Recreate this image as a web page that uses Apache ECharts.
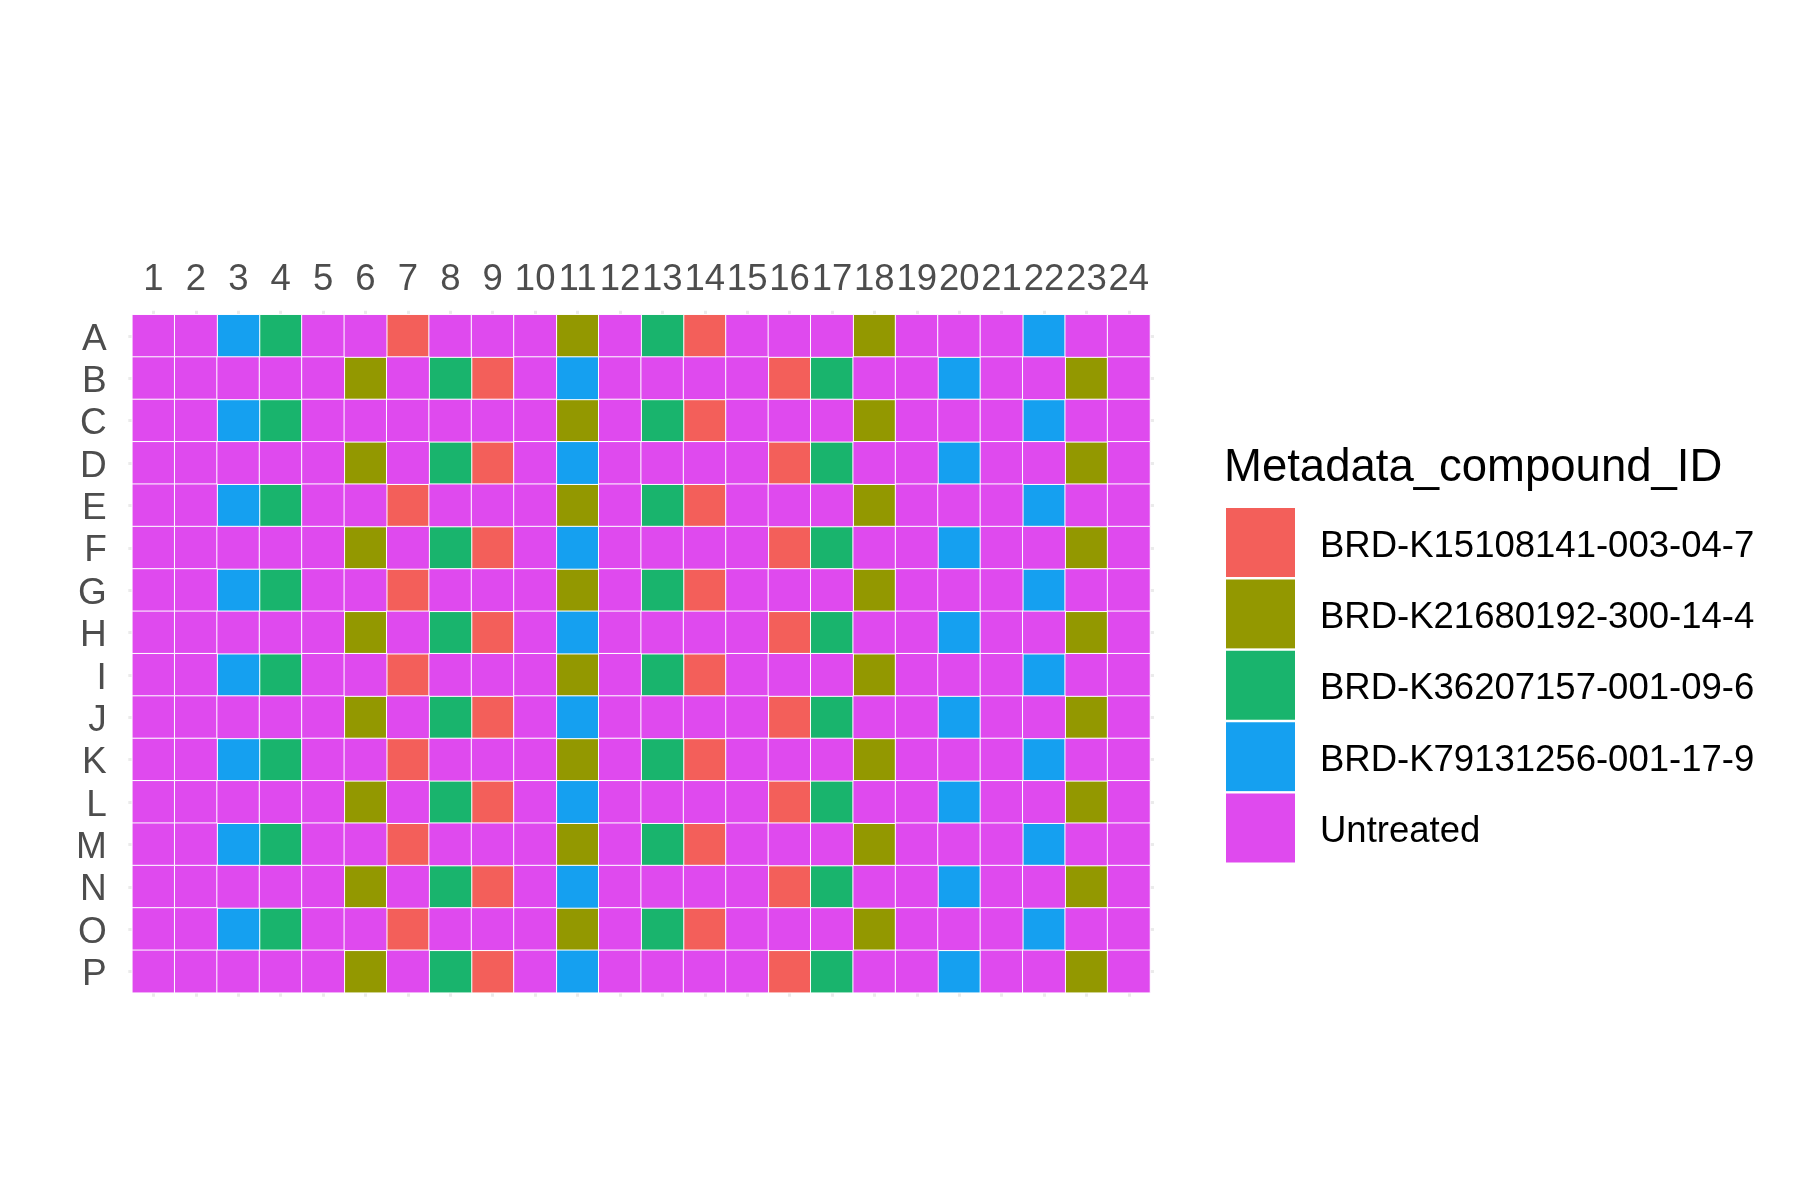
<!DOCTYPE html>
<html>
<head>
<meta charset="utf-8">
<script src="https://cdn.jsdelivr.net/npm/echarts@6/dist/echarts.min.js"></script>
<style>
html,body{margin:0;padding:0;background:#fff;}
#chart{width:1800px;height:1200px;}
</style>
</head>
<body>
<div id="chart"></div>
<script>
// Plate columns and rows
const plateCols = ['1','2','3','4','5','6','7','8','9','10','11','12','13','14','15','16','17','18','19','20','21','22','23','24'];
const plateRows = ['A','B','C','D','E','F','G','H','I','J','K','L','M','N','O','P'];

// Compound categories (index used in the layout below)
const compounds = ['BRD-K15108141-003-04-7','BRD-K21680192-300-14-4','BRD-K36207157-001-09-6','BRD-K79131256-001-17-9','Untreated'];
const compoundColors = ['#F35F5A','#939800','#19B46D','#15A0F0','#DF4AEE'];

// Well layout: compound index per well, one array per plate row
const rowA = [4,4,3,2,4,4,0,4,4,4,1,4,2,0,4,4,4,1,4,4,4,3,4,4];
const rowB = [4,4,4,4,4,1,4,2,0,4,3,4,4,4,4,0,2,4,4,3,4,4,1,4];
const rowC = [4,4,3,2,4,4,4,4,4,4,1,4,2,0,4,4,4,1,4,4,4,3,4,4];
const rowD = [4,4,4,4,4,1,4,2,0,4,3,4,4,4,4,0,2,4,4,3,4,4,1,4];
const rowE = [4,4,3,2,4,4,0,4,4,4,1,4,2,0,4,4,4,1,4,4,4,3,4,4];
const rowF = [4,4,4,4,4,1,4,2,0,4,3,4,4,4,4,0,2,4,4,3,4,4,1,4];
const rowG = [4,4,3,2,4,4,0,4,4,4,1,4,2,0,4,4,4,1,4,4,4,3,4,4];
const rowH = [4,4,4,4,4,1,4,2,0,4,3,4,4,4,4,0,2,4,4,3,4,4,1,4];
const rowI = [4,4,3,2,4,4,0,4,4,4,1,4,2,0,4,4,4,1,4,4,4,3,4,4];
const rowJ = [4,4,4,4,4,1,4,2,0,4,3,4,4,4,4,0,2,4,4,3,4,4,1,4];
const rowK = [4,4,3,2,4,4,0,4,4,4,1,4,2,0,4,4,4,1,4,4,4,3,4,4];
const rowL = [4,4,4,4,4,1,4,2,0,4,3,4,4,4,4,0,2,4,4,3,4,4,1,4];
const rowM = [4,4,3,2,4,4,0,4,4,4,1,4,2,0,4,4,4,1,4,4,4,3,4,4];
const rowN = [4,4,4,4,4,1,4,2,0,4,3,4,4,4,4,0,2,4,4,3,4,4,1,4];
const rowO = [4,4,3,2,4,4,0,4,4,4,1,4,2,0,4,4,4,1,4,4,4,3,4,4];
const rowP = [4,4,4,4,4,1,4,2,0,4,3,4,4,4,4,0,2,4,4,3,4,4,1,4];
const plateLayout = [rowA,rowB,rowC,rowD,rowE,rowF,rowG,rowH,rowI,rowJ,rowK,rowL,rowM,rowN,rowO,rowP];

const FONT = "'Liberation Sans', Arial, Helvetica, sans-serif";

const seriesData = compounds.map(() => []);
plateLayout.forEach((row, r) => {
  row.forEach((code, c) => {
    seriesData[code].push([c, r, 1]);
  });
});

const series = compounds.map((name, i) => ({
  name: name,
  type: 'heatmap',
  xAxisIndex: 0,
  yAxisIndex: 0,
  data: seriesData[i],
  itemStyle: { color: compoundColors[i], borderColor: '#ffffff', borderWidth: 1 },
  emphasis: { disabled: true },
  silent: true
}));

const tickStyle = { show: true, alignWithLabel: true, interval: 0, length: 4, lineStyle: { color: '#EBEBEB', width: 3 } };

const option = {
  animation: false,
  backgroundColor: '#ffffff',
  grid: { left: 132.3, top: 314.7, width: 1017.7, height: 678, containLabel: false },
  xAxis: [
    {
      type: 'category', data: plateCols, position: 'top',
      axisLine: { show: false }, axisTick: tickStyle, splitLine: { show: false },
      axisLabel: { interval: 0, margin: 16.5, fontSize: 36.5, color: '#4D4D4D', fontFamily: FONT }
    },
    {
      type: 'category', data: plateCols, position: 'bottom',
      axisLine: { show: false }, axisTick: tickStyle, splitLine: { show: false },
      axisLabel: { show: false }
    }
  ],
  yAxis: [
    {
      type: 'category', data: plateRows, inverse: true, position: 'left',
      axisLine: { show: false }, axisTick: tickStyle, splitLine: { show: false },
      axisLabel: { interval: 0, margin: 25.5, fontSize: 37, color: '#4D4D4D', fontFamily: FONT, verticalAlign: 'top', lineHeight: 7 }
    },
    {
      type: 'category', data: plateRows, inverse: true, position: 'right',
      axisLine: { show: false }, axisTick: tickStyle, splitLine: { show: false },
      axisLabel: { show: false }
    }
  ],
  legend: {
    data: compounds,
    orient: 'vertical',
    left: 1224,
    top: 506,
    padding: 0,
    itemWidth: 71,
    itemHeight: 71,
    itemGap: -1.6,
    icon: 'rect',
    selectedMode: false,
    formatter: function (name) { return '{a|' + name + '}'; },
    textStyle: {
      fontSize: 36.5, color: '#000000', fontFamily: FONT, padding: [8, 0, 0, 19],
      rich: { a: { fontSize: 36.5, color: '#000000', fontFamily: FONT } }
    }
  },
  graphic: [
    {
      type: 'text',
      left: 1224,
      top: 445,
      style: { text: 'Metadata_compound_ID', fontSize: 45.5, fill: '#000000', fontFamily: FONT }
    }
  ],
  series: series
};

const chart = echarts.init(document.getElementById('chart'), null, { renderer: 'canvas' });
chart.setOption(option);
</script>
</body>
</html>
